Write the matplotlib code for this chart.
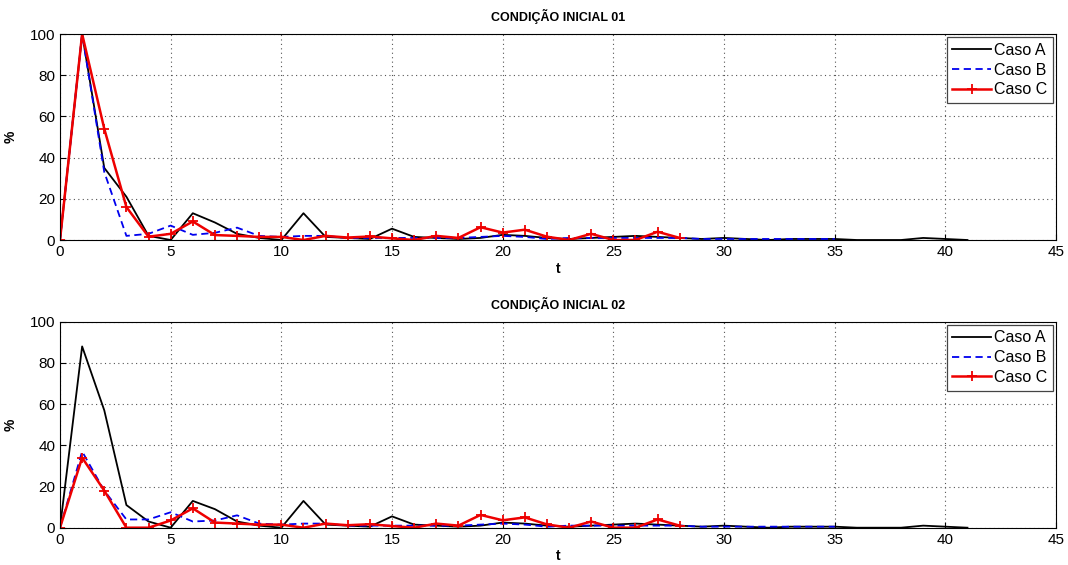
import matplotlib
matplotlib.use("Agg")
import matplotlib.pyplot as plt
import numpy as np

# ---------------- data ----------------
t_full = list(range(0, 42))
t_b = list(range(0, 36))
t_c = list(range(0, 29))

# Condição inicial 01
a1 = [0, 100, 35, 21, 2, 0, 13, 8.5, 3, 1, 0, 13, 1.5, 1, 0.5, 5.5, 1.5, 1, 0.5, 1, 2.5, 2,
      1, 0.5, 1, 1.5, 2, 1.5, 1, 0.5, 1, 0.5, 0, 0.5, 0.5, 0.5, 0, 0, 0, 1, 0.5, 0]
b1 = [0, 100, 33, 2, 3, 7, 2.5, 3.5, 6, 2, 1.5, 2, 2, 1, 1, 1, 1, 1, 1, 1.5, 2, 1.5,
      0.5, 1, 1, 1, 1, 1, 1, 0.5, 0.5, 0.5, 0.5, 0.5, 0.5, 0.5]
c1 = [0, 100, 54, 16, 1.6, 3, 9, 2.4, 2, 1.5, 1.5, 0, 2, 1.2, 1.7, 0.8, 0, 2, 1, 6.2,
      3.6, 5, 1.6, 0, 3, 0, 0, 4, 1]

# Condição inicial 02
a2 = [0, 88, 57, 11, 3, 0, 13, 9, 3, 1, 0, 13, 1.5, 1, 0.5, 5.5, 1.5, 1, 0.5, 1, 2.5, 2,
      1, 0.5, 1, 1.5, 2, 1.5, 1, 0.5, 1, 0.5, 0, 0.5, 0.5, 0.5, 0, 0, 0, 1, 0.5, 0]
b2 = [0, 37, 18, 4, 4, 7.5, 3, 3.5, 6, 2, 1.5, 2, 2, 1, 1, 1, 1, 1, 1, 1.5, 2, 1.5,
      0.5, 1, 1, 1, 1, 1, 1, 0.5, 0.5, 0.5, 0.5, 0.5, 0.5, 0.5]
c2 = [0, 34, 18, 0, 0, 3.5, 9.4, 2.5, 2, 1.5, 1.5, 0, 2, 1.2, 1.7, 0.8, 0, 2, 1, 6.2,
      3.6, 5, 1.6, 0, 3, 0, 0, 4, 1]

titles = ["CONDIÇÃO INICIAL 01", "CONDIÇÃO INICIAL 02"]
labels = ["Caso A", "Caso B", "Caso C"]
xticks = [0, 5, 10, 15, 20, 25, 30, 35, 40, 45]
yticks = [0, 20, 40, 60, 80, 100]

plt.rcParams['font.family'] = ['Liberation Sans', 'DejaVu Sans']

fig = plt.figure(figsize=(10.68, 5.65), dpi=100)
W, H = 1068, 565
left, right = 60, 1056
boxes = [(34, 240), (321.7, 527.7)]
datasets = [(a1, b1, c1), (a2, b2, c2)]

for (top, bot), (a, b, c), title in zip(boxes, datasets, titles):
    ax = fig.add_axes([left / W, 1 - bot / H, (right - left) / W, (bot - top) / H])
    ax.plot(t_full, a, color='black', lw=1.3, label=labels[0])
    ax.plot(t_b, b, color='#0000ee', lw=1.3, ls=(0, (4, 2.5)), label=labels[1])
    ax.plot(t_c, c, color='#ee0000', lw=1.8, marker='+', ms=7, mew=1.3, label=labels[2])
    ax.set_xlim(0, 45)
    ax.set_ylim(0, 100)
    ax.set_xticks(xticks)
    ax.set_yticks(yticks)
    ax.grid(True, color='#555555', ls=(0, (1, 3)), lw=0.8)
    ax.tick_params(direction='in', labelsize=11, length=4, width=0.8)
    for s in ax.spines.values():
        s.set_linewidth(0.8)
    ax.set_title(title, fontsize=9, fontweight='bold', pad=9)
    ax.set_xlabel('t', fontsize=10, fontweight='bold', labelpad=2)
    ax.set_ylabel('%', fontsize=10, fontweight='bold', labelpad=9)
    leg = ax.legend(loc='upper right', fontsize=11.5, fancybox=False, framealpha=1,
                    edgecolor='#444444', borderaxespad=0.2, handlelength=2.4,
                    handletextpad=0.2, labelspacing=0.3, borderpad=0.35)
    leg.get_frame().set_linewidth(0.9)

fig.savefig('out.png', dpi=100, facecolor='white')
